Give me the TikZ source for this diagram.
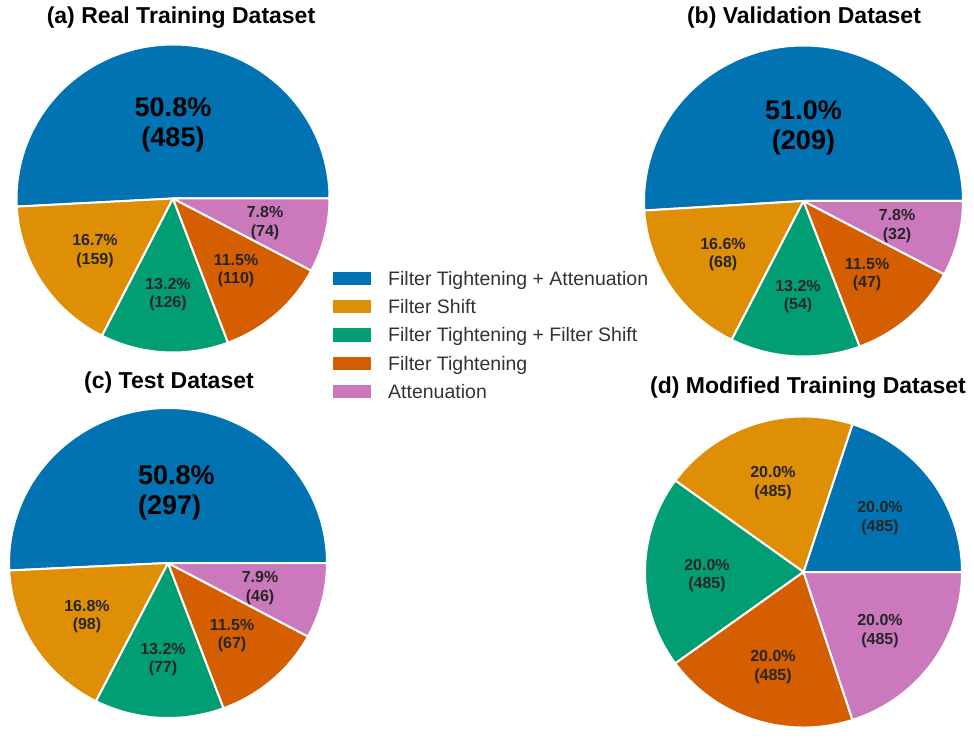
\documentclass[tikz,border=0pt]{standalone}
\usepackage{fontspec}
\setmainfont{Liberation Sans}
\definecolor{cbblue}{HTML}{0173B2}
\definecolor{cborange}{HTML}{DE8F05}
\definecolor{cbgreen}{HTML}{029E73}
\definecolor{cbred}{HTML}{D55E00}
\definecolor{cbpink}{HTML}{CC78BC}
\newcommand\prx{156pt}
\newcommand\pry{154pt}
\newcommand\drawslice[3]{\fill[#1, draw=white, line width=2pt, line join=round] (0pt,0pt) -- (#2:\prx\space and \pry) arc[start angle=#2, end angle=#3, x radius=\prx, y radius=\pry] -- cycle;}
\tikzset{
  ptitle/.style={font=\fontsize{23}{27}\selectfont\bfseries, anchor=base, inner sep=0pt, text=black},
  biglbl/.style={font=\fontsize{27}{30}\selectfont\bfseries, align=center, inner sep=0pt, text=black},
  smalllbl/.style={font=\fontsize{16}{18.5}\selectfont\bfseries, align=center, inner sep=0pt, text=black!85},
  legpatch/.style={minimum width=38pt, minimum height=13.3pt, inner sep=0pt, draw=none},
  legtext/.style={font=\fontsize{19.5}{22}\selectfont, anchor=base west, inner sep=0pt, text=black!80}
}
\begin{document}
\begin{tikzpicture}[x=1pt,y=-1pt]
\useasboundingbox (0,0) rectangle (974,738);
% (a)
\begin{scope}[shift={(173,198.5)}]
\renewcommand\prx{156.5pt}\renewcommand\pry{154pt}
\drawslice{cbblue}{0}{183.02}
\drawslice{cborange}{183.02}{243.02}
\drawslice{cbgreen}{243.02}{290.57}
\drawslice{cbred}{290.57}{332.08}
\drawslice{cbpink}{332.08}{360}
\end{scope}
\node[ptitle] (titleA) at (181,24) {(a) Real Training Dataset};
\node[biglbl] (bigA) at (173,125) {50.8\%\\(485)};
\node[smalllbl] (oA) at (95,251) {16.7\%\\(159)};
\node[smalllbl] (gA) at (168,294.5) {13.2\%\\(126)};
\node[smalllbl] (rA) at (236,270.5) {11.5\%\\(110)};
\node[smalllbl] (pA) at (265,223) {7.8\%\\(74)};
% (b)
\begin{scope}[shift={(803.5,201)}]
\renewcommand\prx{159.5pt}\renewcommand\pry{155.5pt}
\drawslice{cbblue}{0}{183.51}
\drawslice{cborange}{183.51}{243.22}
\drawslice{cbgreen}{243.22}{290.63}
\drawslice{cbred}{290.63}{331.9}
\drawslice{cbpink}{331.9}{360}
\end{scope}
\node[ptitle] (titleB) at (804,24) {(b) Validation Dataset};
\node[biglbl] (bigB) at (803.5,128) {51.0\%\\(209)};
\node[smalllbl] (oB) at (723,254.5) {16.6\%\\(68)};
\node[smalllbl] (gB) at (798,296.5) {13.2\%\\(54)};
\node[smalllbl] (rB) at (867,274.5) {11.5\%\\(47)};
\node[smalllbl] (pB) at (897,226) {7.8\%\\(32)};
% (c)
\begin{scope}[shift={(168,563)}]
\renewcommand\prx{159pt}\renewcommand\pry{155pt}
\drawslice{cbblue}{0}{182.77}
\drawslice{cborange}{182.77}{243.08}
\drawslice{cbgreen}{243.08}{290.46}
\drawslice{cbred}{290.46}{331.69}
\drawslice{cbpink}{331.69}{360}
\end{scope}
\node[ptitle] (titleC) at (169,388) {(c) Test Dataset};
\node[biglbl, align=left, anchor=west] (bigC) at (138,493) {50.8\%\\(297)};
\node[smalllbl] (oC) at (87,616.5) {16.8\%\\(98)};
\node[smalllbl] (gC) at (163,659.5) {13.2\%\\(77)};
\node[smalllbl] (rC) at (232,635.5) {11.5\%\\(67)};
\node[smalllbl] (pC) at (260,588) {7.9\%\\(46)};
% (d)
\begin{scope}[shift={(803.5,572)}]
\renewcommand\prx{158.5pt}\renewcommand\pry{155.5pt}
\drawslice{cbblue}{0}{72}
\drawslice{cborange}{72}{144}
\drawslice{cbgreen}{144}{216}
\drawslice{cbred}{216}{288}
\drawslice{cbpink}{288}{360}
\end{scope}
\node[ptitle] (titleD) at (808,393) {(d) Modified Training Dataset};
\node[smalllbl] (bD) at (880,518) {20.0\%\\(485)};
\node[smalllbl] (oD) at (773,483) {20.0\%\\(485)};
\node[smalllbl] (gD) at (707,575.5) {20.0\%\\(485)};
\node[smalllbl] (rD) at (773,667) {20.0\%\\(485)};
\node[smalllbl] (pD) at (880,631) {20.0\%\\(485)};
% legend
\node[legpatch, fill=cbblue] (p1) at (352,278.3) {};
\node[legpatch, fill=cborange] (p2) at (352,306.7) {};
\node[legpatch, fill=cbgreen] (p3) at (352,335) {};
\node[legpatch, fill=cbred] (p4) at (352,363.3) {};
\node[legpatch, fill=cbpink] (p5) at (352,391.7) {};
\node[legtext] (t1) at (388,285) {Filter Tightening + Attenuation};
\node[legtext] (t2) at (388,313.4) {Filter Shift};
\node[legtext] (t3) at (388,341.7) {Filter Tightening + Filter Shift};
\node[legtext] (t4) at (388,370) {Filter Tightening};
\node[legtext] (t5) at (388,398.4) {Attenuation};
\end{tikzpicture}
\end{document}
